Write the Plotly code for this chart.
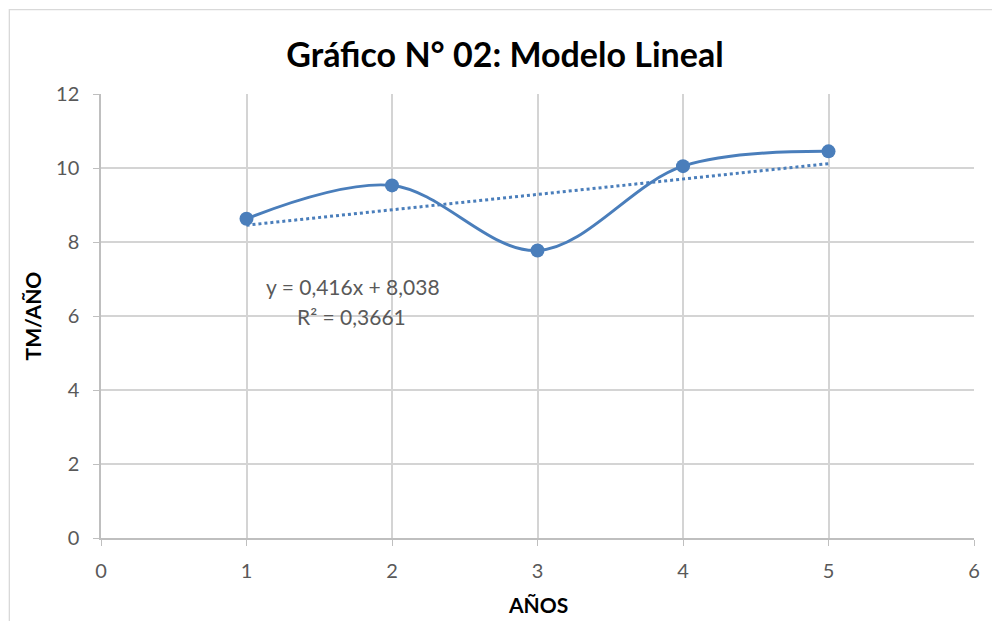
import numpy as np
import plotly.graph_objects as go

years = [1, 2, 3, 4, 5]
tm_per_year = [8.63, 9.53, 7.77, 10.05, 10.45]
x_ticks = [0, 1, 2, 3, 4, 5, 6]
y_ticks = [0, 2, 4, 6, 8, 10, 12]
title_text = "Gráfico N° 02: Modelo Lineal"
x_title = "AÑOS"
y_title = "TM/AÑO"
eq_text = "y = 0,416x + 8,038"
r2_text = "R² = 0,3661"

blue = "#4A7EBB"
font_family = "Lato, 'Open Sans', sans-serif"

slope, intercept = np.polyfit(years, tm_per_year, 1)
trend_y = [slope * x + intercept for x in years]

fig = go.Figure()
fig.add_trace(go.Scatter(
    x=years, y=trend_y, mode="lines",
    line=dict(color=blue, width=3, dash="dot"),
    hoverinfo="skip", showlegend=False))
fig.add_trace(go.Scatter(
    x=years, y=tm_per_year, mode="lines+markers",
    line=dict(color=blue, width=3, shape="spline", smoothing=1.0),
    marker=dict(color=blue, size=14),
    showlegend=False))

W, H = 992, 621
L, R, T, B = 100.7, 13.3, 94.3, 82.7

fig.update_layout(
    width=W, height=H,
    margin=dict(l=L, r=R, t=T, b=B),
    paper_bgcolor="white", plot_bgcolor="white",
    font=dict(family=font_family, color="#595959", size=20),
    title=dict(text="<b>%s</b>" % title_text, x=0.509, xanchor="center",
               y=1 - 55 / H, yanchor="middle",
               font=dict(family=font_family, size=34, color="black")),
    xaxis=dict(range=[0, 6], tickvals=x_ticks, showgrid=True,
               gridcolor="#D4D4D4", gridwidth=1.5, zeroline=False,
               showline=True, linecolor="#BFBFBF", linewidth=1.5,
               ticks="outside", ticklen=6, tickcolor="#BFBFBF",
               ticklabelstandoff=8,
               tickfont=dict(size=20, color="#595959")),
    yaxis=dict(range=[0, 12], tickvals=y_ticks, showgrid=True,
               gridcolor="#D4D4D4", gridwidth=1.5, zeroline=False,
               showline=True, linecolor="#BFBFBF", linewidth=1.5,
               ticks="outside", ticklen=6, tickcolor="#BFBFBF",
               ticklabelstandoff=10,
               tickfont=dict(size=20, color="#595959")),
)

fig.add_annotation(text="<b>%s</b>" % x_title, xref="paper", yref="paper",
                   x=(540 - L) / (W - L - R), y=-(605 - (H - B)) / (H - T - B),
                   showarrow=False, xanchor="center", yanchor="middle",
                   font=dict(size=21, color="black", family=font_family))
fig.add_annotation(text="<b>%s</b>" % y_title, xref="paper", yref="paper",
                   x=-(L - 32) / (W - L - R), y=(H - B - 316) / (H - T - B),
                   textangle=-90,
                   showarrow=False, xanchor="center", yanchor="middle",
                   font=dict(size=21, color="black", family=font_family))
fig.add_annotation(text=eq_text, x=1.73, y=6.79,
                   xref="x", yref="y", showarrow=False,
                   xanchor="center", yanchor="middle",
                   font=dict(size=21, color="#595959", family=font_family))
fig.add_annotation(text=r2_text, x=1.72, y=5.98,
                   xref="x", yref="y", showarrow=False,
                   xanchor="center", yanchor="middle",
                   font=dict(size=21, color="#595959", family=font_family))

fig.add_shape(type="rect", xref="paper", yref="paper",
              x0=-(L - 8.5) / (W - L - R), x1=(W + 20 - L) / (W - L - R),
              y0=-(B + 20) / (H - T - B), y1=(H - 10 - B) / (H - T - B),
              line=dict(color="#D9D9D9", width=1.3), layer="below")

fig.write_html("out.html")
